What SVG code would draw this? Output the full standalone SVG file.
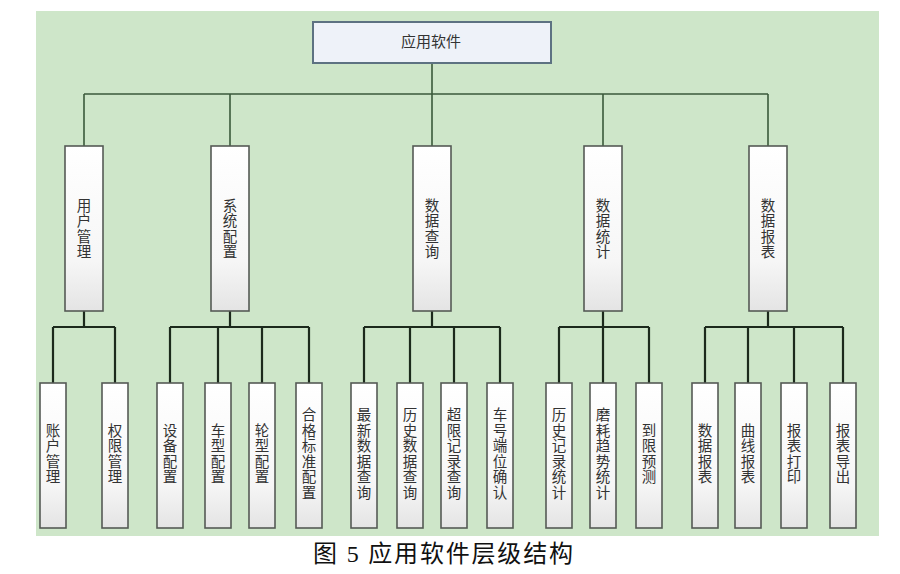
<svg xmlns="http://www.w3.org/2000/svg" width="900" height="574" viewBox="0 0 900 574">
<style>
.bg{fill:#cee6c9}
.root{fill:#eef2f9;stroke:#5d7282;stroke-width:2}
.box{fill:url(#g);stroke:#555a55;stroke-width:1.6}
.t{font-family:"Noto Sans CJK SC","Noto Sans CJK JP",sans-serif;font-size:14.5px;fill:#333;text-anchor:middle}
.v{writing-mode:vertical-rl;letter-spacing:1px}
.up{stroke:#3b5a3b;stroke-width:1.6;fill:none}
.lo{stroke:#1c2a1c;stroke-width:2.2;fill:none}
.cap{font-family:"Liberation Serif","Noto Sans CJK SC",serif;font-size:24px;fill:#111}
</style>
<defs>
<linearGradient id="g" x1="0" y1="0" x2="0" y2="1">
<stop offset="0" stop-color="#ffffff"/>
<stop offset="0.7" stop-color="#f6f6f6"/>
<stop offset="1" stop-color="#e4e4e4"/>
</linearGradient>
</defs>
<rect width="900" height="574" fill="#ffffff"/>
<rect class="bg" x="36" y="11" width="843" height="525"/>
<g id="connectors">
<path class="up" d="M432 63V94M84 94H768M84 94V146M230 94V146M432 94V146M603 94V146M768 94V146"/>
<path class="lo" d="M84 311V327M53 327H115M53 327V383M115 327V383"/>
<path class="lo" d="M230 311V327M170 327H309M170 327V383M218 327V383M262 327V383M309 327V383"/>
<path class="lo" d="M432 311V327M364 327H500M364 327V383M410 327V383M454 327V383M500 327V383"/>
<path class="lo" d="M603 311V327M559 327H649M559 327V383M603 327V383M649 327V383"/>
<path class="lo" d="M768 311V327M705 327H843M705 327V383M748 327V383M794 327V383M843 327V383"/>
</g>
<g id="node-root">
<rect class="root" x="313" y="22" width="238" height="41"/>
<text class="t" x="431" y="47" style="font-size:15px">应用软件</text>
</g>
<g id="node-user">
<rect class="box" x="65" y="146" width="38" height="165"/>
<text class="t v" x="84" y="229">用户管理</text>
</g>
<g id="node-sys">
<rect class="box" x="211" y="146" width="38" height="165"/>
<text class="t v" x="230" y="229">系统配置</text>
</g>
<g id="node-query">
<rect class="box" x="413" y="146" width="38" height="165"/>
<text class="t v" x="432" y="229">数据查询</text>
</g>
<g id="node-stat">
<rect class="box" x="584" y="146" width="38" height="165"/>
<text class="t v" x="603" y="229">数据统计</text>
</g>
<g id="node-report">
<rect class="box" x="749" y="146" width="38" height="165"/>
<text class="t v" x="768" y="229">数据报表</text>
</g>
<g id="leaf-account">
<rect class="box" x="40" y="383" width="26" height="145"/>
<text class="t v" x="53" y="454">账户管理</text>
</g>
<g id="leaf-perm">
<rect class="box" x="102" y="383" width="26" height="145"/>
<text class="t v" x="115" y="454">权限管理</text>
</g>
<g id="leaf-device">
<rect class="box" x="157" y="383" width="26" height="145"/>
<text class="t v" x="170" y="454">设备配置</text>
</g>
<g id="leaf-cartype">
<rect class="box" x="205" y="383" width="26" height="145"/>
<text class="t v" x="218" y="454">车型配置</text>
</g>
<g id="leaf-wheeltype">
<rect class="box" x="249" y="383" width="26" height="145"/>
<text class="t v" x="262" y="454">轮型配置</text>
</g>
<g id="leaf-standard">
<rect class="box" x="296" y="383" width="26" height="145"/>
<text class="t v" x="309" y="454">合格标准配置</text>
</g>
<g id="leaf-latest">
<rect class="box" x="351" y="383" width="26" height="145"/>
<text class="t v" x="364" y="454">最新数据查询</text>
</g>
<g id="leaf-history">
<rect class="box" x="397" y="383" width="26" height="145"/>
<text class="t v" x="410" y="454">历史数据查询</text>
</g>
<g id="leaf-overlimit">
<rect class="box" x="441" y="383" width="26" height="145"/>
<text class="t v" x="454" y="454">超限记录查询</text>
</g>
<g id="leaf-carno">
<rect class="box" x="487" y="383" width="26" height="145"/>
<text class="t v" x="500" y="454">车号端位确认</text>
</g>
<g id="leaf-recstat">
<rect class="box" x="546" y="383" width="26" height="145"/>
<text class="t v" x="559" y="454">历史记录统计</text>
</g>
<g id="leaf-wear">
<rect class="box" x="590" y="383" width="26" height="145"/>
<text class="t v" x="603" y="454">磨耗趋势统计</text>
</g>
<g id="leaf-predict">
<rect class="box" x="636" y="383" width="26" height="145"/>
<text class="t v" x="649" y="454">到限预测</text>
</g>
<g id="leaf-datareport">
<rect class="box" x="692" y="383" width="26" height="145"/>
<text class="t v" x="705" y="454">数据报表</text>
</g>
<g id="leaf-curve">
<rect class="box" x="735" y="383" width="26" height="145"/>
<text class="t v" x="748" y="454">曲线报表</text>
</g>
<g id="leaf-print">
<rect class="box" x="781" y="383" width="26" height="145"/>
<text class="t v" x="794" y="454">报表打印</text>
</g>
<g id="leaf-export">
<rect class="box" x="830" y="383" width="26" height="145"/>
<text class="t v" x="843" y="454">报表导出</text>
</g>
<text class="cap" x="313" y="562" textLength="260" lengthAdjust="spacing">图 5 应用软件层级结构</text>
</svg>
